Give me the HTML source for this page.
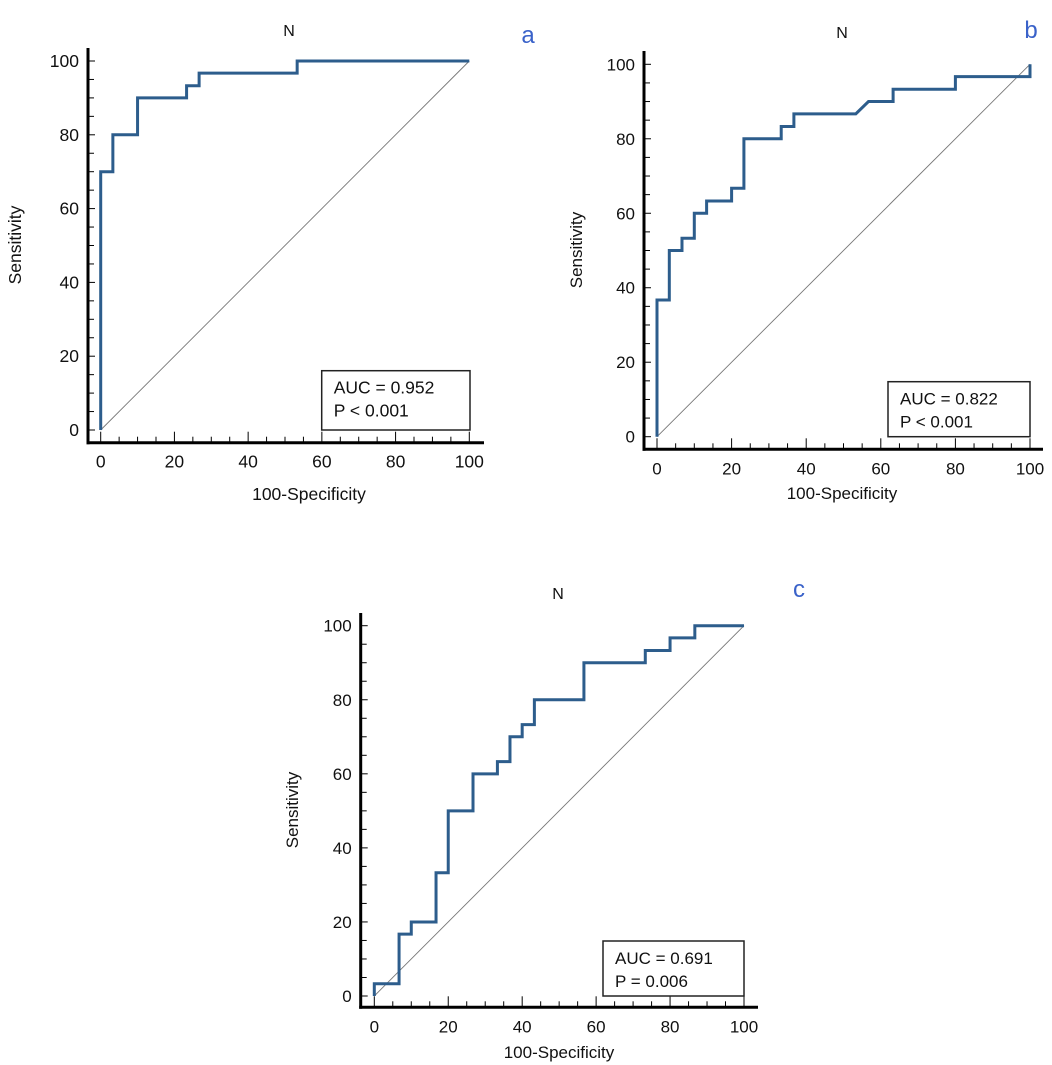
<!DOCTYPE html>
<html><head><meta charset="utf-8"><style>
html,body{margin:0;padding:0;background:#fff;}
svg{display:block;font-family:"Liberation Sans",Arial,sans-serif;}
</style></head><body>
<svg id="fig" width="1052" height="1065" viewBox="0 0 1052 1065"></svg>
<script>
// Chart a data
const aFpr = [0,0,3.3,3.3,10,10,23.3,23.3,26.7,26.7,53.3,53.3,100];
const aSens = [0,70,70,80,80,90,90,93.3,93.3,96.7,96.7,100,100];
const aStats = ["AUC = 0.952","P < 0.001"];
// Chart b data
const bFpr = [0,0,3.3,3.3,6.7,6.7,10,10,13.3,13.3,20,20,23.3,23.3,33.3,33.3,36.7,36.7,53.3,56.7,63.3,63.3,80,80,100,100];
const bSens = [0,36.7,36.7,50,50,53.3,53.3,60,60,63.3,63.3,66.7,66.7,80,80,83.3,83.3,86.7,86.7,90,90,93.3,93.3,96.7,96.7,100];
const bStats = ["AUC = 0.822","P < 0.001"];
// Chart c data
const cFpr = [0,0,6.7,6.7,10,10,16.7,16.7,20,20,26.7,26.7,33.3,33.3,36.7,36.7,40,40,43.3,43.3,56.7,56.7,73.3,73.3,80,80,86.7,86.7,100];
const cSens = [0,3.3,3.3,16.7,16.7,20,20,33.3,33.3,50,50,60,60,63.3,63.3,70,70,73.3,73.3,80,80,90,90,93.3,93.3,96.7,96.7,100,100];
const cStats = ["AUC = 0.691","P = 0.006"];
const tickLabels = [0,20,40,60,80,100];

const NS="http://www.w3.org/2000/svg";
const svg=document.getElementById('fig');
function mk(tag,attrs,parent){const e=document.createElementNS(NS,tag);for(const k in attrs)e.setAttribute(k,attrs[k]);(parent||svg).appendChild(e);return e;}

function drawChart(id,cfg,fpr,sens,stats){
  const fs=cfg.fs;
  const g=mk('g',{});
  
  
  const X=v=>cfg.x0+(cfg.x1-cfg.x0)*v/100;
  const Y=v=>cfg.y0+(cfg.y1-cfg.y0)*v/100;
  const d=mk('line',{x1:X(0),y1:Y(0),x2:X(100),y2:Y(100),stroke:'#777','stroke-width':0.9},g);
  
  
  const ya=mk('line',{x1:cfg.ax,y1:cfg.atop,x2:cfg.ax,y2:cfg.ay+1.5,stroke:'#000','stroke-width':3},g);
  
  
  const xa=mk('line',{x1:cfg.ax-1.5,y1:cfg.ay,x2:cfg.aright,y2:cfg.ay,stroke:'#000','stroke-width':3},g);
  
  
  for(let v=0;v<=100;v+=5){
    const maj=v%20===0;
    mk('line',{x1:cfg.ax,y1:Y(v),x2:cfg.ax+(maj?7:6),y2:Y(v),stroke:'#000','stroke-width':1},g);
    mk('line',{x1:X(v),y1:cfg.ay,x2:X(v),y2:cfg.ay-(maj?11:6),stroke:'#000','stroke-width':1},g);
  }
  tickLabels.forEach(v=>{
    const t=mk('text',{x:cfg.ax-9,y:Y(v)+6,'text-anchor':'end','font-size':fs,fill:'#111'},g);
    t.textContent=v;
    
    
    const u=mk('text',{x:X(v),y:cfg.ay+25,'text-anchor':'middle','font-size':fs,fill:'#111'},g);
    u.textContent=v;
    
    
  });
  const pts=fpr.map((f,i)=>X(f)+','+Y(sens[i])).join(' ');
  const c=mk('polyline',{points:pts,fill:'none',stroke:'#2d5d8c','stroke-width':3,'stroke-linejoin':'miter'},g);
  
  
  const b=mk('rect',{x:cfg.bx,y:cfg.by,width:cfg.bw,height:cfg.bh,fill:'#fff',stroke:'#222','stroke-width':1.5},g);
  
  
  stats.forEach((s,i)=>{
    const t=mk('text',{x:cfg.bx+12,y:cfg.by+23+i*23,'font-size':fs,fill:'#111'},g);
    t.textContent=s;
    
    
  });
  const tt=mk('text',{x:cfg.tx,y:cfg.ty,'text-anchor':'middle','font-size':16,fill:'#111'},g);
  tt.textContent='N';
  
  
  const pl=mk('text',{x:cfg.lx,y:cfg.ly,'text-anchor':'middle','font-size':24,fill:'#3a62c9'},g);
  pl.textContent=id;
  
  
  const xt=mk('text',{x:cfg.xtx,y:cfg.xty,'text-anchor':'middle','font-size':fs,fill:'#111'},g);
  xt.textContent='100-Specificity';
  
  
  const yt=mk('text',{x:0,y:0,'text-anchor':'middle','font-size':fs,fill:'#111',transform:'translate('+cfg.ytx+','+cfg.yty+') rotate(-90)'},g);
  yt.textContent='Sensitivity';
  
  
}

drawChart('a',{fs:17.5,x0:100.7,x1:469.3,y0:430,y1:61,ax:88,ay:442.7,atop:48,aright:484,bx:321.7,by:370.7,bw:148.3,bh:59.3,tx:289,ty:36,lx:528,ly:43,xtx:309,xty:500,ytx:21,yty:245},aFpr,aSens,aStats);
drawChart('b',{fs:17,x0:657,x1:1030,y0:436.7,y1:64.3,ax:644,ay:449.3,atop:51,aright:1043,bx:888,by:381.7,bw:142,bh:55,tx:842,ty:38,lx:1031,ly:38,xtx:842,xty:499,ytx:582,yty:250},bFpr,bSens,bStats);
drawChart('c',{fs:17,x0:374.3,x1:744,y0:996,y1:625.7,ax:360.7,ay:1007.3,atop:613,aright:758,bx:603,by:941,bw:141,bh:55,tx:558,ty:599,lx:799,ly:597,xtx:559,xty:1058,ytx:298,yty:810},cFpr,cSens,cStats);
</script>
</body></html>
